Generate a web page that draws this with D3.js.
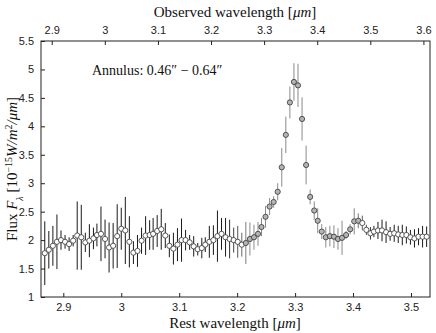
<!DOCTYPE html>
<html>
<head>
<meta charset="utf-8">
<script src="https://cdn.jsdelivr.net/npm/d3@7"></script>
<style>
  body { margin: 0; background: white; }
  .tick text { font-family: "Liberation Sans", Arial, sans-serif; font-size: 11px; fill: #222; }
  .ttl { font-family: "Liberation Serif", "DejaVu Serif", serif; font-size: 15px; fill: #111; }
</style>
</head>
<body>
<div id="chart"></div>
<script>
// data
var wave = [2.868, 2.875, 2.882, 2.889, 2.896, 2.903, 2.910, 2.917, 2.924, 2.931,
            2.938, 2.945, 2.952, 2.958, 2.965, 2.972, 2.979, 2.986, 2.993, 3.000,
            3.007, 3.014, 3.021, 3.028, 3.035, 3.042, 3.049, 3.055, 3.062, 3.069,
            3.076, 3.083, 3.090, 3.097, 3.104, 3.111, 3.118, 3.125, 3.132, 3.139,
            3.145, 3.152, 3.159, 3.166, 3.173, 3.180, 3.187, 3.194, 3.201, 3.208,
            3.215, 3.222, 3.229, 3.236, 3.242, 3.249, 3.256, 3.263, 3.270, 3.277,
            3.284, 3.291, 3.298, 3.305, 3.312, 3.319, 3.326, 3.333, 3.339, 3.346,
            3.353, 3.360, 3.367, 3.374, 3.381, 3.388, 3.395, 3.402, 3.409, 3.416,
            3.423, 3.430, 3.436, 3.443, 3.450, 3.457, 3.464, 3.471, 3.478, 3.485,
            3.492, 3.499, 3.506, 3.513, 3.520, 3.527];

var flux = [1.77, 1.83, 1.90, 1.97, 2.00, 1.97, 1.93, 1.99, 2.08, 2.05,
            1.96, 1.99, 2.03, 2.09, 2.11, 2.02, 1.87, 1.90, 2.07, 2.20,
            2.17, 1.97, 1.78, 1.81, 1.99, 2.08, 2.09, 2.11, 2.16, 2.19,
            2.08, 1.90, 1.85, 1.92, 2.00, 2.00, 1.96, 1.89, 1.84, 1.86,
            1.92, 1.97, 2.00, 2.07, 2.11, 2.05, 2.02, 2.00, 1.97, 1.92,
            1.95, 2.02, 2.05, 2.11, 2.23, 2.41, 2.59, 2.67, 2.85, 3.28,
            3.85, 4.42, 4.78, 4.72, 4.13, 3.32, 2.76, 2.52, 2.34, 2.15,
            2.05, 2.07, 2.06, 2.02, 2.04, 2.09, 2.19, 2.33, 2.34, 2.30,
            2.18, 2.12, 2.15, 2.17, 2.17, 2.14, 2.11, 2.12, 2.10, 2.09,
            2.09, 2.05, 2.03, 2.06, 2.06, 2.06];

var err = [0.56, 0.33, 0.35, 0.48, 0.17, 0.12, 0.12, 0.10, 0.60, 0.57,
           0.17, 0.29, 0.19, 0.20, 0.48, 0.34, 0.44, 0.40, 0.56, 0.37,
           0.59, 0.45, 0.20, 0.28, 0.23, 0.34, 0.26, 0.28, 0.28, 0.36,
           0.22, 0.20, 0.28, 0.29, 0.38, 0.18, 0.13, 0.18, 0.11, 0.18,
           0.13, 0.28, 0.26, 0.45, 0.28, 0.34, 0.34, 0.22, 0.28, 0.21,
           0.37, 0.29, 0.22, 0.21, 0.16, 0.19, 0.15, 0.10, 0.15, 0.34,
           0.32, 0.28, 0.33, 0.38, 0.38, 0.34, 0.13, 0.16, 0.22, 0.13,
           0.18, 0.18, 0.20, 0.19, 0.30, 0.07, 0.09, 0.23, 0.13, 0.13,
           0.09, 0.11, 0.10, 0.15, 0.19, 0.19, 0.12, 0.15, 0.15, 0.18,
           0.15, 0.13, 0.16, 0.15, 0.19, 0.18];

var restTicks = [2.9, 3, 3.1, 3.2, 3.3, 3.4, 3.5],
    obsTicks = [2.9, 3, 3.1, 3.2, 3.3, 3.4, 3.5, 3.6],
    yTicks = [1, 1.5, 2, 2.5, 3, 3.5, 4, 4.5, 5, 5.5];
//

var W = 436, H = 333,
    pLeft = 41, pRight = 430, pTop = 41, pBottom = 297;

var svg = d3.select("#chart").append("svg")
    .attr("width", W)
    .attr("height", H)
    .style("background", "white");

var x = d3.scaleLinear().domain([2.8615, 3.5328]).range([pLeft, pRight]);
var xTop = d3.scaleLinear().domain([2.8798, 3.6124]).range([pLeft, pRight]);
var y = d3.scaleLinear().domain([1, 5.5]).range([pBottom, pTop]);

// axes, ticks pointing inward
var fmt = function(d) { return String(d); };

svg.append("g")
    .attr("transform", "translate(0," + pBottom + ")")
    .call(d3.axisBottom(x).tickValues(restTicks).tickFormat(fmt).tickSizeInner(-4).tickSizeOuter(0).tickPadding(6))
    .call(function(g) { g.select(".domain").remove(); });

svg.append("g")
    .attr("transform", "translate(0," + pTop + ")")
    .call(d3.axisTop(xTop).tickValues(obsTicks).tickFormat(fmt).tickSizeInner(-4).tickSizeOuter(0).tickPadding(7))
    .call(function(g) { g.select(".domain").remove(); });

svg.append("g")
    .attr("transform", "translate(" + pLeft + ",0)")
    .call(d3.axisLeft(y).tickValues(yTicks).tickFormat(fmt).tickSizeInner(-4).tickSizeOuter(0).tickPadding(7))
    .call(function(g) { g.select(".domain").remove(); });

svg.selectAll(".tick line").attr("stroke", "#222");

svg.append("rect")
    .attr("x", pLeft).attr("y", pTop)
    .attr("width", pRight - pLeft).attr("height", pBottom - pTop)
    .attr("fill", "none")
    .attr("stroke", "#222")
    .attr("stroke-width", 1);

// shade: grey inside the feature, dark on the continuum
function shade(w) {
    var d = Math.abs(w - 3.31);
    return Math.max(0, Math.min(1, (0.13 - d) / 0.04));
}
var barColor = d3.interpolateRgb("#1a1a1a", "#8a8a8a");

var pts = wave.map(function(w, i) { return { w: w, f: flux[i], e: err[i] }; });

svg.append("g").selectAll("line")
    .data(pts)
    .join("line")
    .attr("x1", function(d) { return x(d.w); })
    .attr("x2", function(d) { return x(d.w); })
    .attr("y1", function(d) { return y(d.f - d.e); })
    .attr("y2", function(d) { return y(d.f + d.e); })
    .attr("stroke", function(d) { return barColor(shade(d.w)); })
    .attr("stroke-width", 1);

svg.append("g").selectAll("circle")
    .data(pts)
    .join("circle")
    .attr("cx", function(d) { return x(d.w); })
    .attr("cy", function(d) { return y(d.f); })
    .attr("r", 2.6)
    .attr("fill", function(d) { return Math.abs(d.w - 3.31) < 0.1 ? "#b4b4b4" : "white"; })
    .attr("stroke", "#333")
    .attr("stroke-width", 0.8);

// annotation
svg.append("text")
    .attr("class", "ttl")
    .attr("x", 92).attr("y", 75)
    .style("font-size", "14px")
    .text("Annulus: 0.46\u2033 \u2212 0.64\u2033");

// titles
var t1 = svg.append("text").attr("class", "ttl")
    .attr("x", 235).attr("y", 17).attr("text-anchor", "middle");
t1.append("tspan").text("Observed wavelength [");
t1.append("tspan").style("font-style", "italic").text("\u03bcm");
t1.append("tspan").text("]");

var t2 = svg.append("text").attr("class", "ttl")
    .attr("x", 235).attr("y", 328).attr("text-anchor", "middle");
t2.append("tspan").text("Rest wavelength [");
t2.append("tspan").style("font-style", "italic").text("\u03bcm");
t2.append("tspan").text("]");

var t3 = svg.append("text").attr("class", "ttl")
    .attr("transform", "translate(17," + ((pTop + pBottom) / 2) + ") rotate(-90)")
    .attr("text-anchor", "middle");
t3.append("tspan").text("Flux ");
t3.append("tspan").style("font-style", "italic").text("F");
t3.append("tspan").attr("baseline-shift", "sub").style("font-size", "10px").style("font-style", "italic").text("\u03bb");
t3.append("tspan").text(" [10");
t3.append("tspan").attr("baseline-shift", "super").style("font-size", "10px").text("\u221215");
t3.append("tspan").style("font-style", "italic").text("W/m");
t3.append("tspan").attr("baseline-shift", "super").style("font-size", "10px").text("2");
t3.append("tspan").style("font-style", "italic").text("/\u03bcm");
t3.append("tspan").text("]");
</script>
</body>
</html>
